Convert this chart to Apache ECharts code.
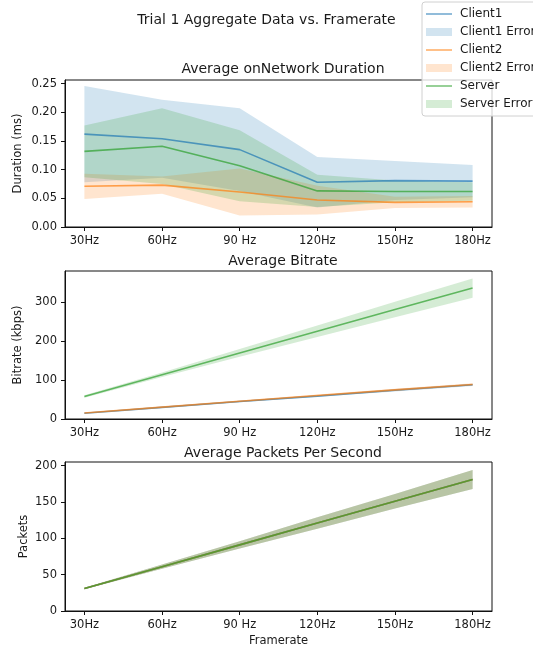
<!DOCTYPE html>
<html>
<head>
<meta charset="utf-8">
<script src="https://cdn.jsdelivr.net/npm/echarts@6/dist/echarts.min.js"></script>
<style>
html,body{margin:0;padding:0;background:#fff;}
#c{width:533px;height:649px;}
</style>
</head>
<body>
<div id="c"></div>
<script>
// ---- data ----
var categories = ['30Hz', '60Hz', '90 Hz', '120Hz', '150Hz', '180Hz'];
var xIndex = [0, 1, 2, 3, 4, 5];

// Average onNetwork Duration (ms)
var durClient1 = [0.162, 0.154, 0.135, 0.078, 0.081, 0.080];
var durClient1Lo = [0.078, 0.086, 0.063, 0.034, 0.047, 0.052];
var durClient1Hi = [0.246, 0.222, 0.207, 0.122, 0.115, 0.108];
var durClient2 = [0.071, 0.073, 0.061, 0.047, 0.043, 0.044];
var durClient2Lo = [0.049, 0.058, 0.020, 0.022, 0.033, 0.034];
var durClient2Hi = [0.093, 0.088, 0.102, 0.072, 0.053, 0.054];
var durServer = [0.132, 0.141, 0.107, 0.063, 0.062, 0.062];
var durServerLo = [0.087, 0.075, 0.045, 0.035, 0.043, 0.046];
var durServerHi = [0.177, 0.207, 0.169, 0.091, 0.081, 0.078];

// Average Bitrate (kbps)
var bitClient1 = [15, 30, 45, 59, 74, 88];
var bitClient1Lo = [14, 28.5, 43, 57, 71, 85];
var bitClient1Hi = [16, 31.5, 47, 61, 77, 91];
var bitClient2 = [15.5, 30.5, 45.5, 60.5, 75, 89];
var bitClient2Lo = [14.5, 29, 43.5, 58, 72, 86];
var bitClient2Hi = [16.5, 32, 47.5, 63, 78, 92];
var bitServer = [58, 114, 170, 226, 282, 337];
var bitServerLo = [55, 108, 160, 211, 262, 312];
var bitServerHi = [61, 120, 180, 241, 302, 362];

// Average Packets Per Second
var pktClient1 = [31, 61, 91, 121, 151, 181];
var pktClient1Lo = [30, 58, 86, 113, 141, 168];
var pktClient1Hi = [32, 64, 96, 129, 161, 194];
var pktClient2 = [31, 61, 91, 121, 151, 181];
var pktClient2Lo = [30, 58, 86, 113, 141, 168];
var pktClient2Hi = [32, 64, 96, 129, 161, 194];
var pktServer = [31, 61, 91, 121, 151, 181];
var pktServerLo = [30, 58, 86, 113, 141, 168];
var pktServerHi = [32, 64, 96, 129, 161, 194];

// tick labels
var durTicks = [0, 0.05, 0.10, 0.15, 0.20, 0.25];
var bitTicks = [0, 100, 200, 300];
var pktTicks = [0, 50, 100, 150, 200];

var seriesNames = ['Client1', 'Client2', 'Server'];
var colors = ['#1f77b4', '#ff7f0e', '#2ca02c'];
var lineColors = ['rgba(31,119,180,0.7)', 'rgba(255,127,14,0.7)', 'rgba(44,160,44,0.7)'];
var bandColors = ['rgba(31,119,180,0.2)', 'rgba(255,127,14,0.2)', 'rgba(44,160,44,0.2)'];

// ---- build ----
var FONT = 'DejaVu Sans';
var TXT = '#1a1a1a';

var panels = [
  {title: 'Average onNetwork Duration', top: 80, height: 147, yMax: 0.2565, yName: 'Duration (ms)', nameGap: 41, ticks: durTicks, fmt: function (v) { return v.toFixed(2); },
   mean: [durClient1, durClient2, durServer], lo: [durClient1Lo, durClient2Lo, durServerLo], hi: [durClient1Hi, durClient2Hi, durServerHi], titleTop: 57},
  {title: 'Average Bitrate', top: 271, height: 148, yMax: 381, yName: 'Bitrate (kbps)', nameGap: 41, ticks: bitTicks, fmt: function (v) { return String(v); },
   mean: [bitClient1, bitClient2, bitServer], lo: [bitClient1Lo, bitClient2Lo, bitServerLo], hi: [bitClient1Hi, bitClient2Hi, bitServerHi], titleTop: 249},
  {title: 'Average Packets Per Second', top: 462, height: 149, yMax: 205, yName: 'Packets', nameGap: 35, ticks: pktTicks, fmt: function (v) { return String(v); },
   mean: [pktClient1, pktClient2, pktServer], lo: [pktClient1Lo, pktClient2Lo, pktServerLo], hi: [pktClient1Hi, pktClient2Hi, pktServerHi], titleTop: 441}
];

// data rows are [y, x] so the y dimension is the stacked one
function rows(arr) { return xIndex.map(function (x, i) { return [arr[i], x]; }); }
function diffRows(hi, lo) { return xIndex.map(function (x, i) { return [hi[i] - lo[i], x]; }); }

var grids = [], xAxes = [], yAxes = [], series = [], titles = [];

titles.push({text: 'Trial 1 Aggregate Data vs. Framerate', left: 'center', top: 8,
  textStyle: {fontFamily: FONT, fontSize: 14, fontWeight: 'normal', color: TXT}});

panels.forEach(function (p, gi) {
  grids.push({left: 65, top: p.top, width: 427, height: p.height, show: true, borderColor: '#111', borderWidth: 1, backgroundColor: '#fff', containLabel: false});
  titles.push({text: p.title, left: 278, textAlign: 'center', top: p.titleTop,
    textStyle: {fontFamily: FONT, fontSize: 14, fontWeight: 'normal', color: TXT}});
  xAxes.push({
    type: 'value', gridIndex: gi, min: -0.25, max: 5.25,
    name: gi === 2 ? 'Framerate' : '', nameLocation: 'middle', nameGap: 24, nameMoveOverlap: false,
    nameTextStyle: {fontFamily: FONT, fontSize: 11.5, color: TXT},
    axisLine: {show: true, onZero: false, lineStyle: {color: '#111', width: 1}},
    axisTick: {show: true, length: 4, customValues: xIndex, lineStyle: {color: '#111'}},
    axisLabel: {show: true, customValues: xIndex, margin: 8, fontFamily: FONT, fontSize: 11.5, color: TXT,
      formatter: function (v) { return categories[Math.round(v)]; }},
    splitLine: {show: false}
  });
  yAxes.push({
    type: 'value', gridIndex: gi, min: 0, max: p.yMax,
    name: p.yName, nameLocation: 'middle', nameGap: p.nameGap, nameRotate: 90, nameMoveOverlap: false,
    nameTextStyle: {fontFamily: FONT, fontSize: 11.5, color: TXT},
    axisLine: {show: true, onZero: false, lineStyle: {color: '#111', width: 1}},
    axisTick: {show: true, length: 4, customValues: p.ticks, lineStyle: {color: '#111'}},
    axisLabel: {show: true, customValues: p.ticks, margin: 8, fontFamily: FONT, fontSize: 11.5, color: TXT, formatter: p.fmt},
    splitLine: {show: false}
  });
  // bands (behind lines)
  for (var s = 0; s < 3; s++) {
    var stackId = 'band' + gi + '_' + s;
    series.push({
      type: 'line', name: seriesNames[s] + ' lower', xAxisIndex: gi, yAxisIndex: gi,
      data: rows(p.lo[s]), encode: {x: 1, y: 0}, stack: stackId, symbol: 'none', silent: true, z: 1,
      lineStyle: {opacity: 0, width: 0}
    });
    series.push({
      type: 'line', name: seriesNames[s] + ' Error', xAxisIndex: gi, yAxisIndex: gi,
      data: diffRows(p.hi[s], p.lo[s]), encode: {x: 1, y: 0}, stack: stackId, symbol: 'none', silent: true, z: 1,
      color: colors[s],
      lineStyle: {opacity: 0, width: 0},
      areaStyle: {color: colors[s], opacity: 0.2}
    });
  }
  // mean lines
  for (var t = 0; t < 3; t++) {
    series.push({
      type: 'line', name: seriesNames[t], xAxisIndex: gi, yAxisIndex: gi,
      data: rows(p.mean[t]), encode: {x: 1, y: 0}, symbol: 'none', silent: true, z: 2,
      color: colors[t],
      lineStyle: {color: colors[t], width: 1.6, opacity: 0.7}
    });
  }
});

var lineIcon = 'path://M0,0M0,3.3H26V4.7H0Z M26,8';
var legendData = [];
for (var k = 0; k < 3; k++) {
  legendData.push({name: seriesNames[k], icon: lineIcon, itemStyle: {color: lineColors[k], borderWidth: 0}});
  legendData.push({name: seriesNames[k] + ' Error', icon: 'rect', itemStyle: {color: bandColors[k], borderWidth: 0}});
}

var option = {
  backgroundColor: '#fff',
  animation: false,
  title: titles,
  grid: grids,
  xAxis: xAxes,
  yAxis: yAxes,
  legend: {
    data: legendData, orient: 'vertical', left: 422, top: 2,
    itemWidth: 26, itemHeight: 8, itemGap: 4,
    padding: [5, 8, 5, 4],
    backgroundColor: 'rgba(255,255,255,0.8)', borderColor: '#d0d0d0', borderWidth: 1, borderRadius: 3,
    textStyle: {fontFamily: FONT, fontSize: 12, color: TXT, lineHeight: 14, padding: [0, 0, 0, 3]},
    selectedMode: false
  },
  series: series
};

var chart = echarts.init(document.getElementById('c'), null, {renderer: 'canvas'});
chart.setOption(option);
</script>
</body>
</html>
